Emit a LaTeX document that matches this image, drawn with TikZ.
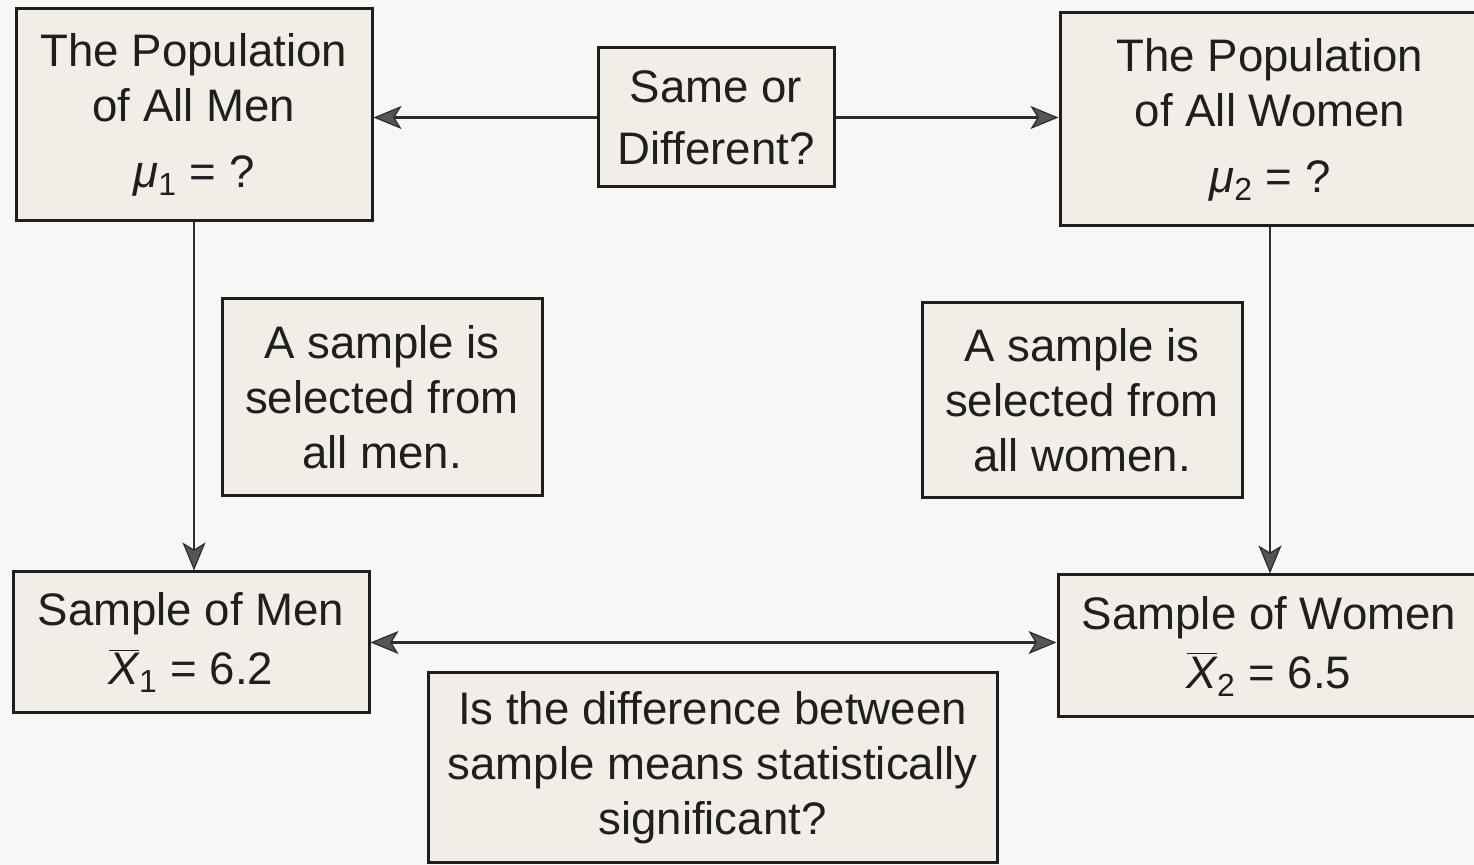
\documentclass[tikz,border=0pt]{standalone}
\usepackage{fontspec}
\setmainfont{Liberation Sans}
\usetikzlibrary{arrows.meta}
\definecolor{bg}{RGB}{247,247,245}
\definecolor{boxfill}{RGB}{242,237,231}
\definecolor{edgec}{RGB}{30,30,30}
\definecolor{arrowc}{RGB}{45,45,45}
\definecolor{tipc}{RGB}{85,85,85}
\newcommand{\gmu}[1]{\textit{μ}\textsubscript{#1}}
\newcommand{\xbr}[1]{$\overline{\mbox{\itshape X}}$\textsubscript{#1}}
\tikzset{
  boxnode/.style={draw=edgec, line width=1.5pt, fill=boxfill, align=center,
    inner sep=0pt, text=black!88, font=\fontsize{22.8}{27.5}\selectfont},
  tipstyle/.style={},
  arr/.style={draw=arrowc, line width=1.1pt,
    -{Stealth[length=14pt,width=11.5pt,inset=3.5pt,fill=tipc,line width=0.6pt]}},
  arrboth/.style={draw=arrowc, line width=1.1pt,
    {Stealth[length=14pt,width=11.5pt,inset=3.5pt,fill=tipc,line width=0.6pt]}-{Stealth[length=14pt,width=11.5pt,inset=3.5pt,fill=tipc,line width=0.6pt]}}
}
\begin{document}
\begin{tikzpicture}[x=0.5pt,y=-0.5pt]
\useasboundingbox (0,0) rectangle (1474,865);
\clip (0,0) rectangle (1474,865);
\fill[bg] (0,0) rectangle (1474,865);

\node[boxnode, minimum width=178pt, minimum height=106pt] (popmen) at (194,115)
  {The Population\\of All Men\\[5.5pt]\gmu{1} = ?};
\node[boxnode, minimum width=118pt, minimum height=69.5pt,
  font=\fontsize{22.8}{31}\selectfont] (same) at (716,117.5)
  {Same or\\Different?};
\node[boxnode, minimum width=210pt, minimum height=106.5pt] (popwomen) at (1270,119.5)
  {The Population\\of All Women\\[5.5pt]\gmu{2} = ?};
\node[boxnode, minimum width=160pt, minimum height=98.5pt] (selmen) at (382,397.5)
  {A sample is\\selected from\\all men.};
\node[boxnode, minimum width=160pt, minimum height=97.5pt] (selwomen) at (1082,400.5)
  {A sample is\\selected from\\all women.};
\node[boxnode, minimum width=178pt, minimum height=70.5pt,
  font=\fontsize{22.8}{29.5}\selectfont] (sampmen) at (191,642.5)
  {Sample of Men\\\xbr{1} = 6.2};
\node[boxnode, minimum width=211pt, minimum height=71pt,
  font=\fontsize{22.8}{29.5}\selectfont] (sampwomen) at (1269,646)
  {Sample of Women\\\xbr{2} = 6.5};
\node[boxnode, minimum width=284.5pt, minimum height=95pt] (diff) at (712.5,768)
  {Is the difference between\\sample means statistically\\significant?};

\draw[arr] (same.west) -- (same.west -| popmen.east);
\draw[arr] (same.east) -- (same.east -| popwomen.west);
\draw[arr] (popmen.south) -- (popmen.south |- sampmen.north);
\draw[arr] (popwomen.south) -- (popwomen.south |- sampwomen.north);
\draw[arrboth] (sampmen.east) -- (sampmen.east -| sampwomen.west);
\end{tikzpicture}
\end{document}
